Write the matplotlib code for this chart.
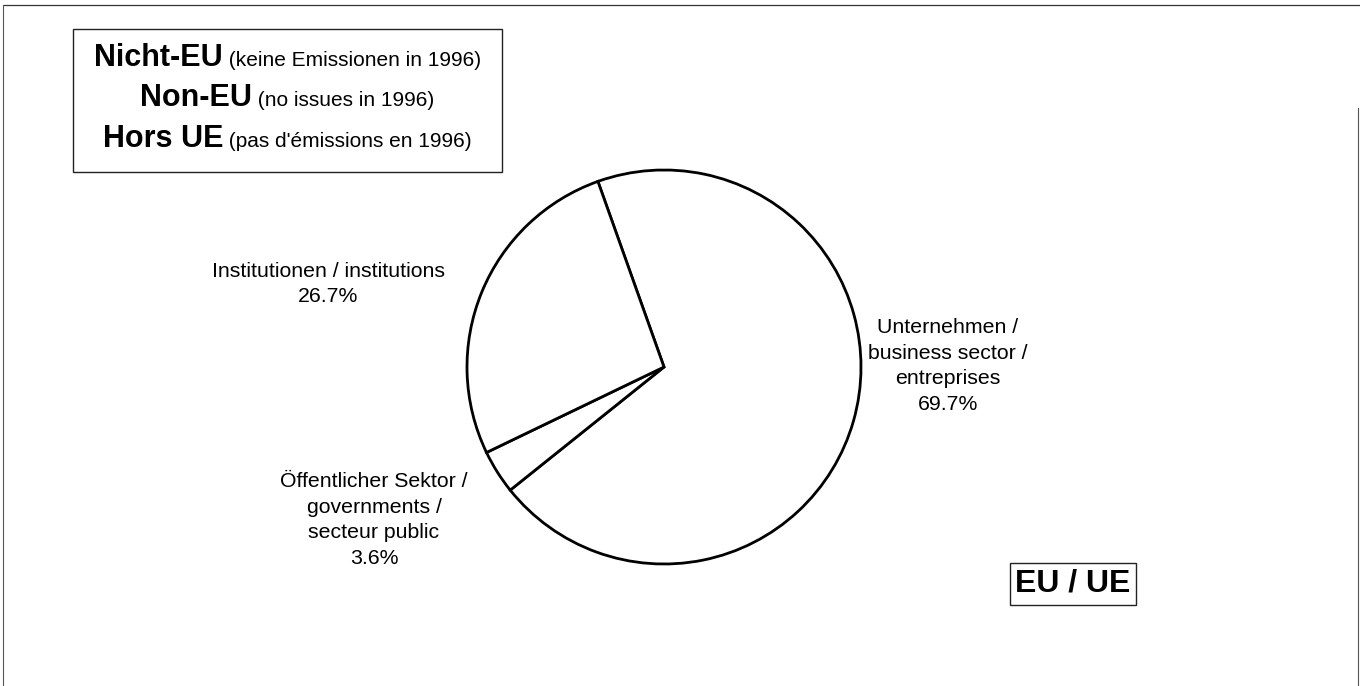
import matplotlib
matplotlib.use('Agg')
import matplotlib.pyplot as plt
from matplotlib.lines import Line2D
from matplotlib.patches import Rectangle

plt.rcParams['font.family'] = ['Liberation Sans', 'DejaVu Sans']

# --- data -------------------------------------------------------------
sectors = ['Unternehmen /\nbusiness sector /\nentreprises',
           'Öffentlicher Sektor /\ngovernments /\nsecteur public',
           'Institutionen / institutions']
shares = [69.7, 3.6, 26.7]

region_bold = ['Nicht-EU', 'Non-EU', 'Hors UE']
region_note = ['(keine Emissionen in 1996)', '(no issues in 1996)',
               "(pas d'émissions en 1996)"]
panel_label = 'EU / UE'

# --- layout (pixels, origin top-left) ----------------------------------
W, H = 1360, 686
cx, cy, r = 664, 367, 197
label_px = [(948, 366), (374, 520), (328, 284)]


def fx(x):
    return x / W


def fy(y):
    return 1 - y / H


fig = plt.figure(figsize=(W / 100, H / 100), dpi=100)
fig.patch.set_facecolor('white')

ax = fig.add_axes([0, 0, 1, 1])
ax.pie(shares, startangle=109.6, counterclock=False,
       wedgeprops=dict(facecolor='white', edgecolor='black', linewidth=2.0))
ax.set_xlim(-cx / r, (W - cx) / r)
ax.set_ylim(-(H - cy) / r, cy / r)
ax.set_aspect('equal')
ax.axis('off')

for name, val, (lx, ly) in zip(sectors, shares, label_px):
    ax.text((lx - cx) / r, (cy - ly) / r, f'{name}\n{val:.1f}%',
            ha='center', va='center', fontsize=15.3, linespacing=1.45,
            multialignment='center')

# outer frame (scanned page border)
fig.add_artist(Line2D([fx(4), fx(1360)], [fy(5), fy(5)], color='#333333', lw=0.9))
fig.add_artist(Line2D([fx(3), fx(3)], [fy(5), fy(686)], color='#555555', lw=0.8))
fig.add_artist(Line2D([fx(1358), fx(1358)], [fy(108), fy(686)], color='#555555', lw=0.8))

# region legend box
bx0, by0, bx1, by1 = 73, 29, 502, 172
fig.add_artist(Rectangle((fx(bx0), fy(by1)), fx(bx1) - fx(bx0), fy(by0) - fy(by1),
                         facecolor='white', edgecolor='#222222', lw=1.0))

renderer = fig.canvas.get_renderer()
mid = (bx0 + bx1) / 2
for bold, note, base in zip(region_bold, region_note, [66, 106, 147]):
    t1 = fig.text(0, fy(base), bold, fontsize=22, fontweight='bold', va='baseline')
    t2 = fig.text(0, fy(base), ' ' + note, fontsize=15, va='baseline')
    w1 = t1.get_window_extent(renderer).width
    w2 = t2.get_window_extent(renderer).width
    x0 = mid - (w1 + w2) / 2
    t1.set_x(fx(x0))
    t2.set_x(fx(x0 + w1))

# EU / UE tag
fig.text(fx(1073), fy(584), panel_label, fontsize=23, fontweight='bold',
         ha='center', va='center',
         bbox=dict(boxstyle='square,pad=0.18', facecolor='white',
                   edgecolor='#222222', lw=1.0))

fig.savefig('out.png', dpi=100, facecolor='white')
